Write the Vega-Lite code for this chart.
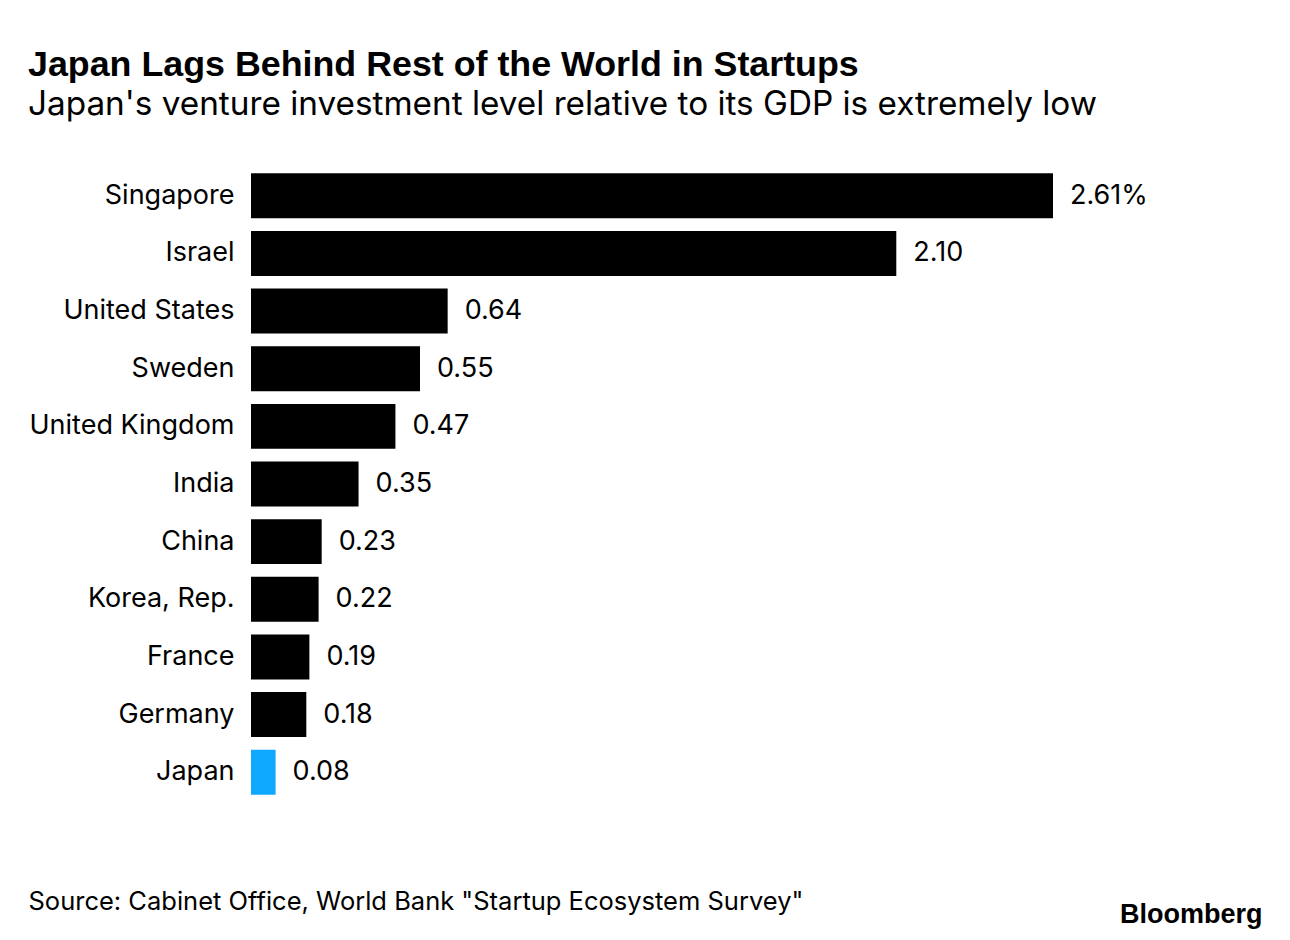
{
  "$schema": "https://vega.github.io/schema/vega-lite/v6.json",
  "autosize": "none",
  "width": 802,
  "height": 634,
  "padding": {"left": 251, "top": 167, "right": 237, "bottom": 139},
  "background": "white",
  "title": {
    "text": "Japan Lags Behind Rest of the World in Startups",
    "subtitle": "Japan's venture investment level relative to its GDP is extremely low",
    "anchor": "start",
    "frame": "group",
    "dx": -223,
    "offset": 45,
    "font": "Liberation Sans",
    "fontSize": 35.8,
    "fontWeight": "bold",
    "color": "black",
    "subtitleFont": "Inter",
    "subtitleFontSize": 33.3,
    "subtitleColor": "black",
    "subtitlePadding": 5
  },
  "data": {
    "values": [
      {"country": "Singapore", "value": 2.61, "label": "2.61%", "highlight": "no"},
      {"country": "Israel", "value": 2.10, "label": "2.10", "highlight": "no"},
      {"country": "United States", "value": 0.64, "label": "0.64", "highlight": "no"},
      {"country": "Sweden", "value": 0.55, "label": "0.55", "highlight": "no"},
      {"country": "United Kingdom", "value": 0.47, "label": "0.47", "highlight": "no"},
      {"country": "India", "value": 0.35, "label": "0.35", "highlight": "no"},
      {"country": "China", "value": 0.23, "label": "0.23", "highlight": "no"},
      {"country": "Korea, Rep.", "value": 0.22, "label": "0.22", "highlight": "no"},
      {"country": "France", "value": 0.19, "label": "0.19", "highlight": "no"},
      {"country": "Germany", "value": 0.18, "label": "0.18", "highlight": "no"},
      {"country": "Japan", "value": 0.08, "label": "0.08", "highlight": "yes"}
    ]
  },
  "encoding": {
    "y": {
      "field": "country",
      "type": "nominal",
      "sort": null,
      "scale": {"paddingInner": 0.22, "paddingOuter": 0.11},
      "axis": {
        "title": "Bloomberg",
        "titleAngle": 0,
        "titleAnchor": null,
        "titleX": 1011,
        "titleY": 755,
        "titleAlign": "right",
        "titleBaseline": "alphabetic",
        "titleFont": "Liberation Sans",
        "titleFontSize": 27,
        "titleFontWeight": "bold",
        "titleColor": "black",
        "domain": false,
        "ticks": false,
        "labelPadding": 17,
        "labelFont": "Inter",
        "labelFontSize": 27,
        "labelColor": "black",
        "labelLimit": 400
      }
    },
    "x": {
      "field": "value",
      "type": "quantitative",
      "scale": {"domain": [0, 2.61], "nice": false},
      "axis": {
        "title": "Source: Cabinet Office, World Bank \"Startup Ecosystem Survey\"",
        "titleAnchor": null,
        "titleX": -223,
        "titleY": 108,
        "titleAlign": "left",
        "titleBaseline": "alphabetic",
        "titleFont": "Inter",
        "titleFontSize": 25.5,
        "titleFontWeight": "normal",
        "titleColor": "black",
        "labels": false,
        "ticks": false,
        "domain": false,
        "grid": false
      }
    }
  },
  "layer": [
    {
      "mark": {"type": "bar"},
      "encoding": {
        "color": {
          "field": "highlight",
          "type": "nominal",
          "scale": {"domain": ["no", "yes"], "range": ["#000000", "#0fa8ff"]},
          "legend": null
        }
      }
    },
    {
      "mark": {"type": "text", "align": "left", "baseline": "middle", "dx": 17, "font": "Inter", "fontSize": 27, "color": "black"},
      "encoding": {"text": {"field": "label"}}
    }
  ],
  "config": {"view": {"stroke": null}}
}
